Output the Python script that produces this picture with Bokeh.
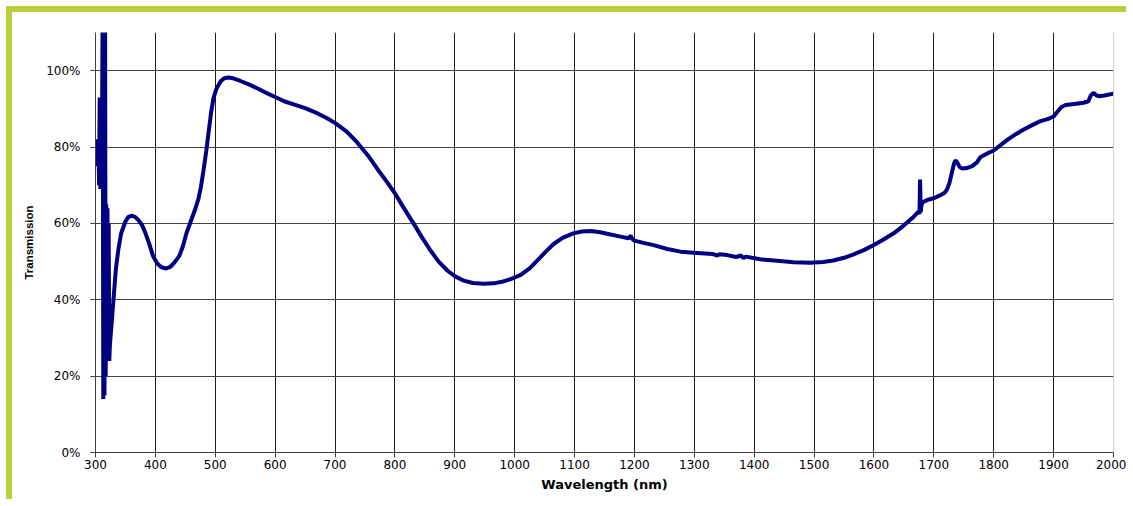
from bokeh.plotting import figure
from bokeh.models import FixedTicker, PrintfTickFormatter, Span, Range1d
from bokeh.embed import file_html
from bokeh.resources import INLINE

# wavelength (nm)
wavelength = [300, 301, 302, 303, 304, 305, 306, 307, 308, 309, 310, 311, 312, 313, 314, 315,
              316, 317, 318, 319, 320, 321, 322, 323, 324, 326, 328, 331, 334, 338, 343, 350,
              355, 360, 366, 372, 378, 384, 390, 396, 403, 410, 418, 425, 432, 440, 446, 452,
              459, 466, 472, 476, 480, 485, 489, 493, 497, 502, 509, 515, 522, 530, 542, 556,
              570, 585, 600, 615, 631, 650, 671, 686, 701, 720, 737, 755, 771, 786, 800, 815,
              831, 845, 859, 873, 888, 900, 915, 930, 948, 965, 981, 995, 1010, 1025, 1038,
              1052, 1065, 1080, 1098, 1112, 1127, 1143, 1160, 1175, 1190, 1194, 1196, 1200,
              1215, 1232, 1255, 1277, 1299, 1330, 1338, 1342, 1355, 1370, 1378, 1382, 1386,
              1410, 1438, 1466, 1494, 1515, 1532, 1550, 1566, 1583, 1599, 1616, 1633, 1650,
              1666, 1674, 1676, 1677, 1678, 1679, 1681, 1690, 1700, 1711, 1718, 1722, 1726,
              1731, 1734, 1736, 1739, 1743, 1747, 1755, 1764, 1772, 1778, 1790, 1800, 1822,
              1835, 1850, 1865, 1878, 1890, 1900, 1906, 1913, 1920, 1935, 1950, 1958, 1962,
              1967, 1971, 1975, 1985, 2000]
# transmission (%)
transmission = [78, 82, 75, 81, 76, 80, 70, 93, 69, 92, 72, 88, 118, 14, 118, 15,
                115, 20, 65, 24, 64, 25, 60, 24, 28, 32, 36, 42, 48, 53, 57.5, 60.5,
                61.7, 62, 61.7, 60.8, 59.5, 57.2, 54.5, 51.5, 49.5, 48.5, 48.2, 48.6, 49.8, 51.5, 54, 57.5,
                60.5, 63.5, 66.5, 69.5, 73.5, 79, 84, 89, 92.8, 95.3, 97.2, 98, 98.2, 98, 97.3, 96.4,
                95.4, 94.2, 93.1, 92, 91.2, 90.2, 88.8, 87.6, 86.2, 84, 81.2, 77.8, 74.2, 71, 67.9, 64,
                60, 56.4, 53, 50, 47.6, 46.2, 45, 44.4, 44.2, 44.3, 44.8, 45.5, 46.5, 48.2, 50.3,
                52.6, 54.6, 56.2, 57.4, 57.9, 58, 57.7, 57.1, 56.6, 56.1, 56.8, 56, 55.5,
                54.9, 54.3, 53.3, 52.6, 52.3, 52, 51.6, 51.9, 51.7, 51.2, 51.6, 50.9, 51.3,
                50.6, 50.2, 49.8, 49.7, 49.9, 50.3, 51, 51.9, 53, 54.3, 55.8, 57.4, 59.5,
                61.7, 63, 62.5, 71.5, 63, 64.5, 65.5, 66.2, 66.6, 67.4, 68, 68.9, 70.6,
                73.9, 75.8, 76.5, 76, 74.8, 74.4, 74.5, 75, 76, 77.4, 78.4, 79.1, 81.8,
                83.2, 84.6, 85.8, 86.8, 87.3, 88, 89.2, 90.5, 91, 91.3, 91.6, 92, 93.5,
                94.2, 93.6, 93.3, 93.5, 94]

x_ticks = list(range(300, 2001, 100))
y_ticks = [0, 20, 40, 60, 80, 100]

p = figure(width=1120, height=493, x_range=Range1d(300, 2000), y_range=Range1d(0, 110),
           output_backend="svg", toolbar_location=None,
           min_border_left=83, min_border_top=20, min_border_right=19, min_border_bottom=53)
p.styles = {"border-top": "6px solid #bccf3b", "border-left": "6px solid #bccf3b",
            "margin-top": "6px", "margin-left": "6px"}
p.outline_line_color = None
p.background_fill_color = "white"
p.border_fill_color = "white"

p.line(wavelength, transmission, line_color="#000080", line_width=4)

p.xaxis.ticker = FixedTicker(ticks=x_ticks)
p.yaxis.ticker = FixedTicker(ticks=y_ticks)
p.xgrid.ticker = FixedTicker(ticks=x_ticks[:-1])
p.ygrid.ticker = FixedTicker(ticks=y_ticks)
p.yaxis.formatter = PrintfTickFormatter(format="%d%%")
p.xgrid.grid_line_color = "#1a1a1a"
p.ygrid.grid_line_color = "#444444"
p.add_layout(Span(location=2000, dimension="height", line_color="#a8a8a8", line_width=1))

for ax in (p.xaxis[0], p.yaxis[0]):
    ax.axis_line_color = "#404040"
    ax.major_tick_line_color = "#404040"
    ax.minor_tick_line_color = None
    ax.major_tick_in = 0
    ax.major_tick_out = 5
    ax.major_label_text_font = "DejaVu Sans"
    ax.major_label_text_font_size = "12px"
    ax.major_label_text_color = "black"
    ax.axis_label_text_font_style = "bold"
    ax.axis_label_text_color = "black"

p.xaxis.axis_label = "Wavelength (nm)"
p.xaxis.axis_label_text_font = "DejaVu Sans"
p.xaxis.axis_label_text_font_size = "13px"
p.xaxis.major_label_standoff = 2
p.xaxis.axis_label_standoff = 5

p.yaxis.axis_label = "Transmission"
p.yaxis.axis_label_text_font = "Liberation Sans"
p.yaxis.axis_label_text_font_size = "11.5px"
p.yaxis.major_label_standoff = 10
p.yaxis.axis_label_standoff = 8

open("out.html", "w").write(file_html(p, INLINE))
